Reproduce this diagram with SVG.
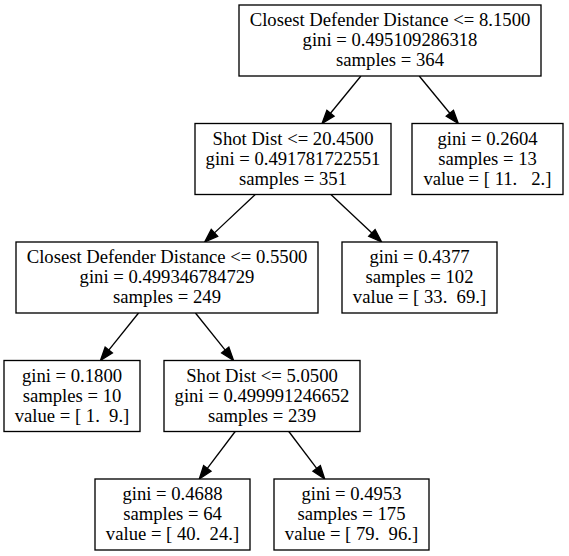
<svg xmlns="http://www.w3.org/2000/svg" width="569" height="556" viewBox="0 0 569 556">
<style>
.box{fill:#ffffff;stroke:#000000;stroke-width:1.33}
.lbl{font-family:'Liberation Serif','DejaVu Serif',serif;font-size:18.67px;fill:#000000;text-anchor:middle;white-space:pre}
.edge{stroke:#000000;stroke-width:1.33;fill:none;marker-end:url(#arr)}
</style>
<defs>
<marker id="arr" markerUnits="userSpaceOnUse" viewBox="0 0 10 7" refX="0" refY="3.5" markerWidth="13.3" markerHeight="9.3" orient="auto" overflow="visible">
<path d="M0,0 L10,3.5 L0,7 z" fill="#000000" stroke="#000000" stroke-width="1"/>
</marker>
</defs>
<rect width="569" height="556" fill="#ffffff"/>
<g id="connectors">
<line class="edge" x1="360.94" y1="76" x2="330.49" y2="113.21"/>
<line class="edge" x1="419.21" y1="76" x2="449.84" y2="113.23"/>
<line class="edge" x1="255.25" y1="194.5" x2="214.44" y2="232.89"/>
<line class="edge" x1="330.9" y1="194.5" x2="371.89" y2="232.91"/>
<line class="edge" x1="138.54" y1="313" x2="108.78" y2="350.12"/>
<line class="edge" x1="195.46" y1="313" x2="225.22" y2="350.12"/>
<line class="edge" x1="235.19" y1="431.5" x2="207.33" y2="468.39"/>
<line class="edge" x1="288.81" y1="431.5" x2="316.67" y2="468.39"/>
</g>
<g font-family="Liberation Serif, DejaVu Serif, serif">
<g id="node0">
<rect class="box" x="239" y="5" width="302" height="71"/>
<text class="lbl" x="390" y="26">Closest Defender Distance &lt;= 8.1500</text>
<text class="lbl" x="390" y="46">gini = 0.495109286318</text>
<text class="lbl" x="390" y="66">samples = 364</text>
</g>
<g id="node1">
<rect class="box" x="195" y="123.5" width="196" height="71"/>
<text class="lbl" x="293" y="144.5">Shot Dist &lt;= 20.4500</text>
<text class="lbl" x="293" y="164.5">gini = 0.491781722551</text>
<text class="lbl" x="293" y="184.5">samples = 351</text>
</g>
<g id="node8">
<rect class="box" x="412" y="123.5" width="151" height="71"/>
<text class="lbl" x="487.5" y="144.5">gini = 0.2604</text>
<text class="lbl" x="487.5" y="164.5">samples = 13</text>
<text class="lbl" x="487.5" y="184.5">value = [ 11.   2.]</text>
</g>
<g id="node2">
<rect class="box" x="16" y="242" width="302" height="71"/>
<text class="lbl" x="167" y="263">Closest Defender Distance &lt;= 0.5500</text>
<text class="lbl" x="167" y="283">gini = 0.499346784729</text>
<text class="lbl" x="167" y="303">samples = 249</text>
</g>
<g id="node7">
<rect class="box" x="342" y="242" width="155" height="71"/>
<text class="lbl" x="419.5" y="263">gini = 0.4377</text>
<text class="lbl" x="419.5" y="283">samples = 102</text>
<text class="lbl" x="419.5" y="303">value = [ 33.  69.]</text>
</g>
<g id="node3">
<rect class="box" x="4" y="360.5" width="136" height="71"/>
<text class="lbl" x="72" y="381.5">gini = 0.1800</text>
<text class="lbl" x="72" y="401.5">samples = 10</text>
<text class="lbl" x="72" y="421.5">value = [ 1.  9.]</text>
</g>
<g id="node4">
<rect class="box" x="164" y="360.5" width="196" height="71"/>
<text class="lbl" x="262" y="381.5">Shot Dist &lt;= 5.0500</text>
<text class="lbl" x="262" y="401.5">gini = 0.499991246652</text>
<text class="lbl" x="262" y="421.5">samples = 239</text>
</g>
<g id="node5">
<rect class="box" x="95" y="479" width="155" height="71"/>
<text class="lbl" x="172.5" y="500">gini = 0.4688</text>
<text class="lbl" x="172.5" y="520">samples = 64</text>
<text class="lbl" x="172.5" y="540">value = [ 40.  24.]</text>
</g>
<g id="node6">
<rect class="box" x="274" y="479" width="155" height="71"/>
<text class="lbl" x="351.5" y="500">gini = 0.4953</text>
<text class="lbl" x="351.5" y="520">samples = 175</text>
<text class="lbl" x="351.5" y="540">value = [ 79.  96.]</text>
</g>
</g>
</svg>
